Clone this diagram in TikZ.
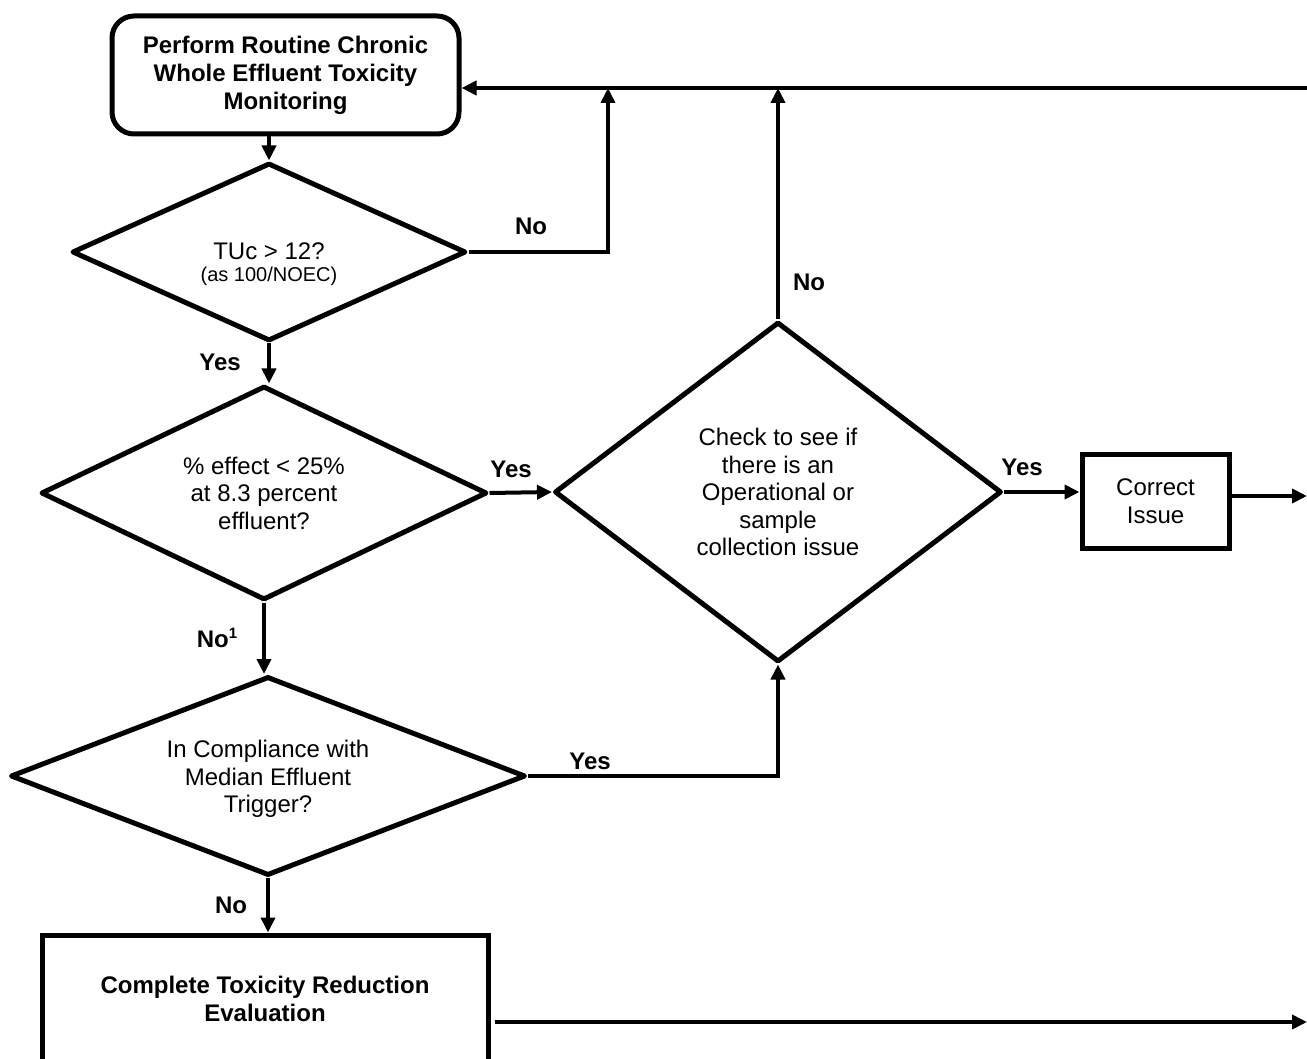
\documentclass[tikz,border=0pt]{standalone}
\usepackage{fontspec}
\setmainfont{Liberation Sans}
\usetikzlibrary{shapes.geometric,arrows.meta,calc}
\begin{document}
\begin{tikzpicture}[x=1pt,y=-1pt,
 every node/.style={font=\fontsize{24}{27.5}\selectfont},
 dec/.style={diamond, draw, line width=5pt, line join=round, inner sep=0pt, align=center},
 boxnode/.style={rectangle, draw, line width=5pt, inner sep=0pt, align=center},
 conn/.style={line width=4pt, -{Triangle[length=15pt,width=14pt]}},
 lab/.style={font=\bfseries\fontsize{24}{26}\selectfont, inner sep=0pt}
]
\useasboundingbox (0,0) rectangle (1307,1059);

\node[boxnode, rounded corners=22pt, minimum width=347pt, minimum height=118pt,
      font=\bfseries\fontsize{24}{28}\selectfont] (top) at (285.5,75)
  {Perform Routine Chronic\\Whole Effluent Toxicity\\Monitoring};

\node[dec, aspect=2.2, minimum width=394pt, minimum height=178pt] (d1) at (269,252) {};
\node[inner sep=0pt, align=center, font=\fontsize{24}{22}\selectfont] (d1text) at (269,264)
  {TUc > 12?\\{\fontsize{20}{22}\selectfont (as 100/NOEC)}};

\node[dec, aspect=2, minimum width=446pt, minimum height=214pt] (d2) at (264,493)
  {\% effect < 25\%\\at 8.3 percent\\effluent?};

\node[dec, aspect=1.3, minimum width=447pt, minimum height=340pt] (d3) at (778,492)
  {Check to see if\\there is an\\Operational or\\sample\\collection issue};

\node[boxnode, minimum width=147pt, minimum height=94pt] (cor) at (1155.5,501)
  {Correct\\Issue};

\node[dec, aspect=2.6, minimum width=515pt, minimum height=199pt] (d4) at (268,776) {};
\node[inner sep=0pt, align=center] (d4text) at (268,779)
  {In Compliance with\\Median Effluent\\Trigger?};

\node[boxnode, minimum width=446pt, minimum height=128pt,
      font=\bfseries\fontsize{24}{28}\selectfont] (bot) at (265,999)
  {Complete Toxicity Reduction\\Evaluation};

\coordinate (tl) at (1307,88);
\coordinate (j1) at (608,88);
\coordinate (r2) at (1307,496);
\coordinate (r3) at (1307,1022);

\draw[conn] (tl) -- (top.east |- tl);
\draw[conn] (d1.east) -| (j1);
\draw[conn] (d3.north) -- (d3.north |- tl);
\draw[conn] (top.south -| d1.north) -- (d1.north);
\draw[conn] (d1.south) -- (d1.south |- d2.north);
\draw[conn] (d2.east) -- (d3.west);
\draw[conn] (d3.east) -- (d3.east -| cor.west);
\draw[conn] (cor.east |- r2) -- (r2);
\draw[conn] (d2.south) -- (d2.south |- d4.north);
\draw[conn] (d4.east) -| (d3.south);
\draw[conn] (d4.south) -- (d4.south |- bot.north);
\draw[conn, shorten <=4pt] (bot.east |- r3) -- (r3);

\node[lab] (l1) at (531,226) {No};
\node[lab] (l2) at (809,282) {No};
\node[lab] (l3) at (220,362) {Yes};
\node[lab] (l4) at (511,469) {Yes};
\node[lab] (l5) at (1022,467) {Yes};
\node[lab] (l6) at (217,638) {No\raisebox{9pt}{\bfseries\fontsize{15}{15}\selectfont 1}};
\node[lab] (l7) at (590,761) {Yes};
\node[lab] (l8) at (231,905) {No};
\end{tikzpicture}
\end{document}
